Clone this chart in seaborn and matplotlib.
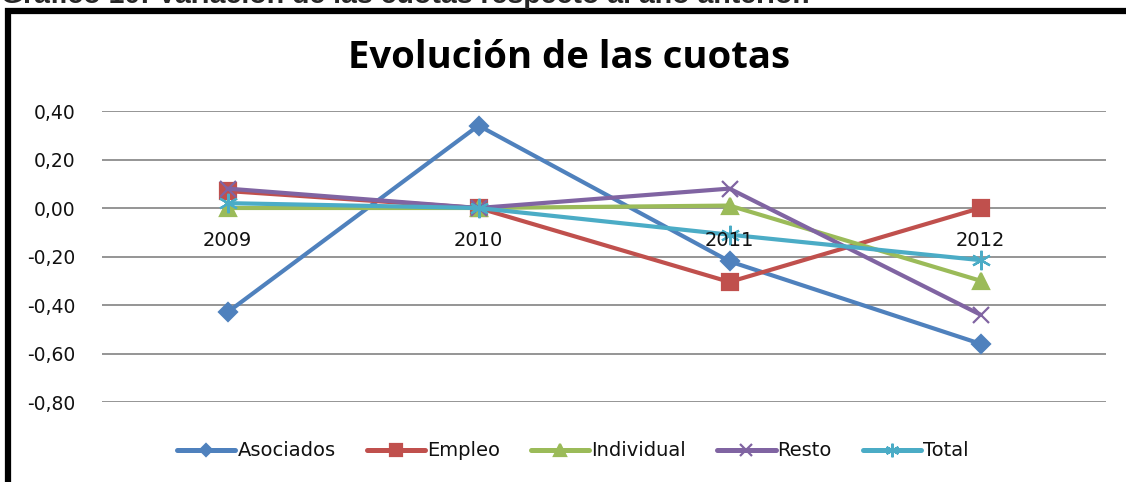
import matplotlib
matplotlib.use("Agg")
import matplotlib.pyplot as plt
import matplotlib.patches as mpatches
from matplotlib.ticker import FuncFormatter
import seaborn as sns
import pandas as pd

years = ["2009", "2010", "2011", "2012"]
asociados = [-0.43, 0.34, -0.22, -0.56]
empleo = [0.07, 0.00, -0.305, 0.00]
individual = [0.00, 0.00, 0.01, -0.30]
resto = [0.08, 0.00, 0.08, -0.44]
total = [0.02, 0.00, -0.11, -0.215]

series = {
    "Asociados": asociados,
    "Empleo": empleo,
    "Individual": individual,
    "Resto": resto,
    "Total": total,
}
colors = {"Asociados": "#4F81BD", "Empleo": "#C0504D", "Individual": "#9BBB59",
          "Resto": "#8064A2", "Total": "#4BACC6"}
markers = {"Asociados": "D", "Empleo": "s", "Individual": "^", "Resto": "x", "Total": (6, 2, 0)}
msizes = {"Asociados": 9, "Empleo": 12, "Individual": 12, "Resto": 12, "Total": 14}

sns.set_style("white")
plt.rcParams["font.family"] = ["DejaVu Sans"]

fig = plt.figure(figsize=(11.26, 4.82), dpi=100)
ax = fig.add_axes([102 / 1126, 1 - 402 / 482, (1106 - 102) / 1126, (402 - 111) / 482])

for name, vals in series.items():
    df = pd.DataFrame({"year": years, "value": vals})
    sns.lineplot(data=df, x="year", y="value", ax=ax, color=colors[name], lw=3.0,
                 marker=markers[name], markersize=msizes[name], markeredgewidth=1.6,
                 markeredgecolor=colors[name], label=name, sort=False)

ax.set_xlim(-0.5, len(years) - 0.5)
ax.set_ylim(-0.80, 0.40)
ax.set_yticks([0.40, 0.20, 0.00, -0.20, -0.40, -0.60, -0.80])
ax.yaxis.set_major_formatter(FuncFormatter(lambda v, p: f"{v:.2f}".replace(".", ",").replace("-0,00", "0,00")))
ax.yaxis.grid(True, color="#8c8c8c", lw=1.3)
ax.set_axisbelow(True)
ax.tick_params(axis="y", length=0, pad=19, labelsize=13.5, labelcolor="#111111")
ax.set_xticks([])
ax.set_xlabel("")
ax.set_ylabel("")
for s in ax.spines.values():
    s.set_visible(False)

for i, y in enumerate(years):
    ax.annotate(y, (i, 0), xytext=(0, -32), textcoords="offset pixels",
                ha="center", va="center", fontsize=14, color="#111111")

fig.text(569 / 1126, 1 - 58 / 482, "Evolución de las cuotas", ha="center", va="center",
         fontsize=27.5, fontweight="bold", color="black", family="Open Sans")

leg = ax.legend(loc="center", bbox_to_anchor=(573 / 1126, 1 - 451 / 482), bbox_transform=fig.transFigure,
                ncol=5, frameon=False, fontsize=14, handlelength=3.0, handletextpad=0.1,
                columnspacing=1.6, labelcolor="#111111")
for h in leg.legend_handles:
    h.set_markersize(h.get_markersize() * 0.7)
    h.set_linewidth(3.6)

fig.text(1 / 1126, 1 - 3 / 482, "Gráfico 10: Variación de las cuotas respecto al año anterior.",
         ha="left", va="baseline", fontsize=20.5, fontweight="bold", family="Liberation Sans")

fig.add_artist(mpatches.Rectangle((8 / 1126, -0.2), 1.2, 1.2 - 11 / 482, fill=False,
                                  ec="black", lw=4.5, transform=fig.transFigure))

fig.savefig("out.png", dpi=100)
